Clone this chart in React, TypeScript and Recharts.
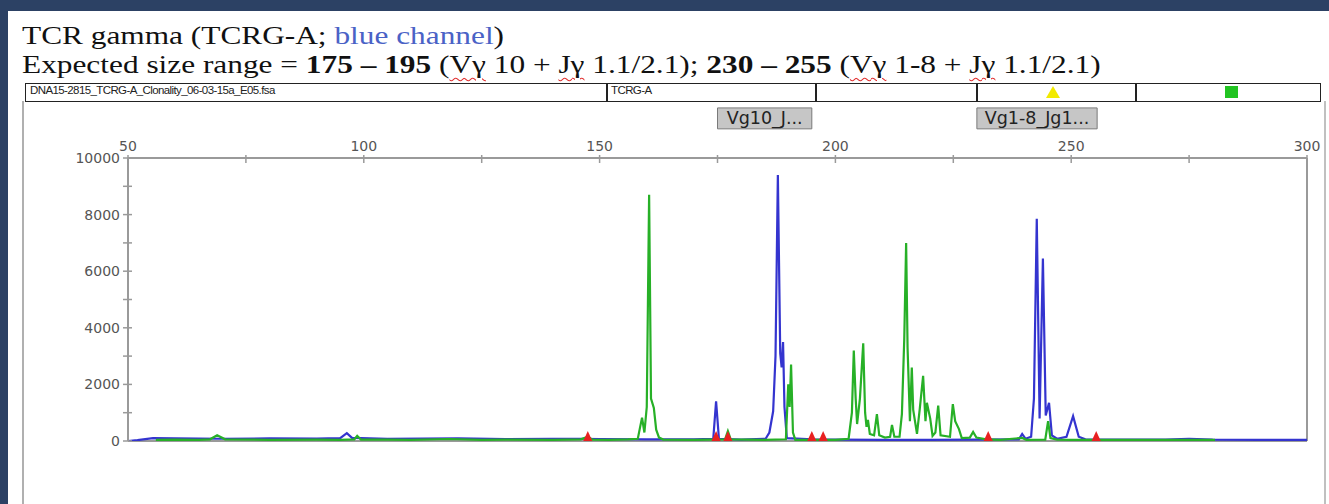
import React from 'react';
import { ComposedChart, Line, XAxis, YAxis, Scatter, ReferenceLine, ReferenceArea } from 'recharts';

// ---------- data ----------
const xTicks = [50, 75, 100, 125, 150, 175, 200, 225, 250, 275, 300];
const yTicks = [0, 1000, 2000, 3000, 4000, 5000, 6000, 7000, 8000, 9000, 10000];

// blue channel (TCRG-A) : [size in bp, RFU]
const blueTrace: [number, number][] = [
  [50, 0], [52, 30], [55.3, 100], [60, 90], [70, 80], [80, 90], [90, 85], [95, 100], [96.4, 280], [97.5, 110],
  [105, 80], [120, 90], [130, 70], [140, 80], [146, 80], [150, 70], [160, 60], [170, 60],
  [174.1, 80], [174.7, 1400], [175.3, 80], [180, 50], [185.2, 80], [186.0, 300], [186.8, 1050], [187.3, 3000],
  [187.8, 9400], [188.3, 3100], [188.6, 2600], [188.9, 3500], [189.2, 1200], [189.7, 100], [195, 60], [200, 50],
  [210, 40], [220, 40], [230, 50], [238.9, 60], [239.6, 250], [240.3, 80], [241.5, 150], [242.1, 1500],
  [242.7, 7850], [243.3, 800], [244.0, 6450], [244.6, 900], [245.3, 1350], [245.9, 200], [247, 80],
  [249.0, 150], [250.4, 880], [251.6, 150], [253, 60], [260, 50], [270, 50], [275, 80], [280, 50], [290, 40], [300, 40],
];

// green channel : [size in bp, RFU]
const greenTrace: [number, number][] = [
  [55.9, 40], [60, 50], [65, 40], [67.4, 60], [68.9, 200], [70.6, 60], [80, 40], [90, 50], [95, 40], [98.0, 60],
  [98.6, 180], [99.4, 50], [105, 50], [110, 40], [118, 70], [125, 40], [130, 50], [140, 40], [146, 60], [147.5, 150],
  [148.5, 50], [152, 40], [156, 60], [158.1, 80], [158.6, 500], [159.0, 820], [159.5, 300], [160.0, 1200],
  [160.5, 8700], [160.9, 1500], [161.5, 1170], [162.0, 400], [162.6, 120], [163.5, 50], [170, 40], [176.6, 60],
  [177.2, 350], [177.8, 60], [185, 40], [189.5, 60], [190.0, 2000], [190.3, 1200], [190.6, 2700], [191.0, 300],
  [191.5, 40], [200, 40], [202.8, 80], [203.5, 1000], [203.9, 3200], [204.3, 1500], [204.6, 600], [205.2, 1500],
  [205.9, 3450], [206.3, 1000], [206.6, 500], [206.9, 750], [207.3, 250], [208.2, 200], [208.8, 950], [209.3, 200],
  [210.5, 120], [211.6, 150], [212.0, 570], [212.5, 150], [213.6, 150], [214.1, 950], [214.6, 3600], [215.0, 7000],
  [215.3, 3300], [215.8, 700], [216.2, 2600], [216.5, 1100], [217.3, 250], [217.9, 1150], [218.6, 2300],
  [219.1, 700], [219.4, 1350], [220.1, 800], [220.6, 180], [221.2, 300], [221.8, 1250], [222.3, 200], [224.3, 150],
  [224.9, 1300], [225.4, 700], [226.2, 420], [226.8, 100], [228.5, 120], [229.2, 320], [229.9, 120], [232, 60],
  [235, 40], [239.6, 110], [240.5, 40], [244.5, 50], [245.1, 700], [245.6, 100], [247, 50], [250, 40], [260, 40],
  [270, 40], [280.5, 40],
];

// red size markers (bp)
const redMarkers: number[] = [147.5, 174.7, 177.2, 195.0, 197.4, 232.4, 255.3];

// bins
const binNames = ['Vg10_J...', 'Vg1-8_Jg1...'];
const binStart = [175, 230];
const binEnd = [195, 255.5];

const fileName = 'DNA15-2815_TCRG-A_Clonality_06-03-15a_E05.fsa';
const panelName = 'TCRG-A';

// ---------- derived ----------
const blueData = blueTrace.map(([bp, v]) => ({ bp, v }));
const greenData = greenTrace.map(([bp, v]) => ({ bp, v }));
const redData = redMarkers.map((bp) => ({ bp, v: 0 }));

const AXIS_GREY = '#9a9a9a';
const TICK_FONT = '"DejaVu Sans", Verdana, sans-serif';

const XTick = (props: any) => {
  const { x, y, payload } = props;
  const v = payload.value;
  return (
    <g>
      <line x1={x} x2={x} y1={y - 3} y2={y + 5} stroke={AXIS_GREY} strokeWidth={1.5} />
      {v % 50 === 0 && (
        <text x={x} y={y - 7} textAnchor="middle" fontSize={14} fontFamily={TICK_FONT} fill="#555">
          {v}
        </text>
      )}
    </g>
  );
};

const YTick = (props: any) => {
  const { x, y, payload } = props;
  const v = payload.value;
  return (
    <g>
      <line x1={x - 5} x2={x + 4} y1={y} y2={y} stroke={AXIS_GREY} strokeWidth={1.5} />
      {v % 2000 === 0 && (
        <text x={x - 8} y={y + 5} textAnchor="end" fontSize={14} fontFamily={TICK_FONT} fill="#555">
          {v}
        </text>
      )}
    </g>
  );
};

const Tri = (props: any) => {
  const { cx, cy } = props;
  return <polygon points={`${cx - 5},${cy + 1} ${cx + 5},${cy + 1} ${cx},${cy - 10}`} fill="#e82020" />;
};

const Wavy = ({ children }: { children: React.ReactNode }) => (
  <span style={{ textDecoration: 'underline wavy #e03030', textDecorationThickness: '1px', textUnderlineOffset: '4px' }}>
    {children}
  </span>
);

const BinLabel = (props: any) => {
  const { viewBox, value } = props;
  const { x, y, width, height } = viewBox;
  return (
    <text x={x + width / 2} y={y + height / 2 + 6} textAnchor="middle" fontSize={17.5} fontFamily={TICK_FONT} fill="#222">
      {value}
    </text>
  );
};

export default function App() {
  return (
    <div style={{ position: 'absolute', left: 0, top: 0, width: 1329, height: 504, background: '#2c4164', overflow: 'hidden' }}>
      <div style={{ position: 'absolute', left: 8, top: 11, width: 1321, height: 493, background: '#ffffff' }} />
      {/* title */}
      <div
        style={{
          position: 'absolute', left: 22, top: 21, fontFamily: '"Liberation Serif", "Times New Roman", serif',
          fontSize: 26, lineHeight: '29px', color: '#111', transform: 'scaleX(1.205)', transformOrigin: 'left top', whiteSpace: 'nowrap',
        }}
      >
        <div>TCR gamma (TCRG-A; <span style={{ color: '#4a62c6' }}>blue channel</span>)</div>
        <div>
          Expected size range = <b>175 – 195</b> (<Wavy>Vγ</Wavy> 10 + <Wavy>Jγ</Wavy> 1.1/2.1); <b>230 – 255</b> (<Wavy>Vγ</Wavy> 1-8 + <Wavy>Jγ</Wavy> 1.1/2.1)
        </div>
      </div>
      {/* panel side borders */}
      <div style={{ position: 'absolute', left: 22, top: 101, width: 2, height: 403, background: '#b0b0b0' }} />
      <div style={{ position: 'absolute', left: 1324, top: 101, width: 2, height: 403, background: '#c0c0c0' }} />
      {/* header row */}
      <div style={{ position: 'absolute', left: 25, top: 83, width: 1294, height: 17, border: '1.5px solid #222', background: '#fff' }} />
      {[606, 815, 976, 1135].map((x) => (
        <div key={x} style={{ position: 'absolute', left: x, top: 83, width: 1.5, height: 19, background: '#222' }} />
      ))}
      <div style={{ position: 'absolute', left: 30, top: 84, fontFamily: '"Liberation Sans", Arial, sans-serif', fontSize: 11.5, letterSpacing: -0.6, color: '#222', whiteSpace: 'nowrap' }}>
        {fileName}
      </div>
      <div style={{ position: 'absolute', left: 611, top: 84, fontFamily: '"Liberation Sans", Arial, sans-serif', fontSize: 11.5, letterSpacing: -0.6, color: '#222', whiteSpace: 'nowrap' }}>
        {panelName}
      </div>
      <svg style={{ position: 'absolute', left: 0, top: 0 }} width={1329} height={110}>
        <polygon points="1046,98 1060,98 1053,86" fill="#f2ea00" />
        <rect x={1225} y={86} width={13} height={12} fill="#22c422" />
      </svg>
      {/* chart */}
      <div style={{ position: 'absolute', left: 0, top: 0 }}>
        <ComposedChart width={1329} height={504} margin={{ top: 128, right: 22, bottom: 63, left: 68 }}>
          <XAxis
            xAxisId="x"
            dataKey="bp"
            type="number"
            orientation="top"
            domain={[50, 300]}
            ticks={xTicks}
            interval={0}
            height={30}
            tickSize={0}
            tickMargin={0}
            tickLine={false}
            tick={<XTick />}
            axisLine={{ stroke: AXIS_GREY, strokeWidth: 2 }}
            allowDataOverflow
          />
          <YAxis
            yAxisId="y"
            dataKey="v"
            type="number"
            domain={[0, 10000]}
            ticks={yTicks}
            interval={0}
            width={60}
            tickSize={0}
            tickMargin={0}
            tickLine={false}
            tick={<YTick />}
            axisLine={{ stroke: AXIS_GREY, strokeWidth: 2 }}
            allowDataOverflow
          />
          <ReferenceLine xAxisId="x" yAxisId="y" x={300} stroke={AXIS_GREY} strokeWidth={2} />
          <ReferenceLine xAxisId="x" yAxisId="y" y={0} stroke={AXIS_GREY} strokeWidth={2} />
          {binNames.map((name, i) => (
            <ReferenceArea
              key={name}
              xAxisId="x"
              yAxisId="y"
              x1={binStart[i]}
              x2={binEnd[i]}
              y1={11030}
              y2={11770}
              ifOverflow="visible"
              fill="#c6c6c6"
              fillOpacity={1}
              stroke="#7a7a7a"
              strokeWidth={1}
              label={<BinLabel value={name} />}
            />
          ))}
          <Line xAxisId="x" yAxisId="y" data={blueData} dataKey="v" type="linear" stroke="#3434cf" strokeWidth={2.2} dot={false} isAnimationActive={false} />
          <Line xAxisId="x" yAxisId="y" data={greenData} dataKey="v" type="linear" stroke="#27b027" strokeWidth={2.2} dot={false} isAnimationActive={false} />
          <Scatter xAxisId="x" yAxisId="y" data={redData} dataKey="v" shape={<Tri />} isAnimationActive={false} />
        </ComposedChart>
      </div>
    </div>
  );
}
